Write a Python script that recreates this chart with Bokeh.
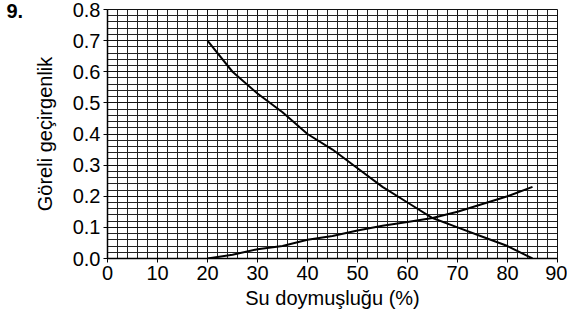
import numpy as np
from bokeh.plotting import figure
from bokeh.models import SingleIntervalTicker, Range1d, PrintfTickFormatter
from bokeh.embed import file_html
from bokeh.resources import INLINE

# Data
sw_oil = [20, 25, 30, 35, 40, 45, 50, 55, 60, 65, 70, 75, 80, 85]
kro = [0.70, 0.60, 0.53, 0.47, 0.40, 0.35, 0.29, 0.23, 0.18, 0.13, 0.10, 0.07, 0.04, 0.0]
sw_water = [20, 25, 30, 35, 40, 45, 50, 55, 60, 65, 70, 75, 80, 85]
krw = [0.0, 0.012, 0.03, 0.04, 0.06, 0.072, 0.09, 0.105, 0.117, 0.13, 0.15, 0.175, 0.20, 0.23]

x_label = "Su doymuşluğu (%)"
y_label = "Göreli geçirgenlik"
question = "9."

FONT = "Liberation Sans"

p = figure(width=567, height=323, output_backend="svg", toolbar_location=None,
           x_range=Range1d(0, 90), y_range=Range1d(0, 0.8), title=question)
p.min_border_left = 107
p.min_border_right = 10
p.min_border_top = 9
p.min_border_bottom = 65
p.background_fill_color = "white"
p.border_fill_color = "white"
p.outline_line_color = "#111111"
p.outline_line_width = 1

p.title.align = "left"
p.title.offset = -101
p.title.standoff = -17
p.title.text_font = FONT
p.title.text_font_size = "20px"
p.title.text_font_style = "bold"
p.title.text_color = "black"

p.xaxis.ticker = SingleIntervalTicker(interval=10, num_minor_ticks=5)
p.yaxis.ticker = SingleIntervalTicker(interval=0.1, num_minor_ticks=5)
p.yaxis.formatter = PrintfTickFormatter(format="%.1f")

for ax in (p.xaxis, p.yaxis):
    ax.major_label_text_font = FONT
    ax.major_label_text_font_size = "20px"
    ax.major_label_text_color = "black"
    ax.axis_line_color = "black"
    ax.axis_line_width = 1.5
    ax.major_tick_line_color = "black"
    ax.major_tick_out = 4
    ax.major_tick_in = 0
    ax.minor_tick_line_color = None
    ax.major_label_standoff = 3
    ax.axis_label_text_font = FONT
    ax.axis_label_text_font_size = "20px"
    ax.axis_label_text_font_style = "normal"
    ax.axis_label_text_color = "black"

p.xaxis.axis_label = x_label
p.xaxis.axis_label_standoff = 4
p.yaxis.axis_label = y_label
p.yaxis.axis_label_standoff = 14

p.xgrid.grid_line_color = "#111111"
p.ygrid.grid_line_color = "#111111"
p.xgrid.minor_grid_line_color = "#222222"
p.ygrid.minor_grid_line_color = "#222222"
p.xgrid.grid_line_width = 1
p.ygrid.grid_line_width = 1

p.line(sw_oil, kro, line_color="black", line_width=2)
p.line(sw_water, krw, line_color="black", line_width=2)

open("out.html", "w").write(file_html(p, INLINE))
